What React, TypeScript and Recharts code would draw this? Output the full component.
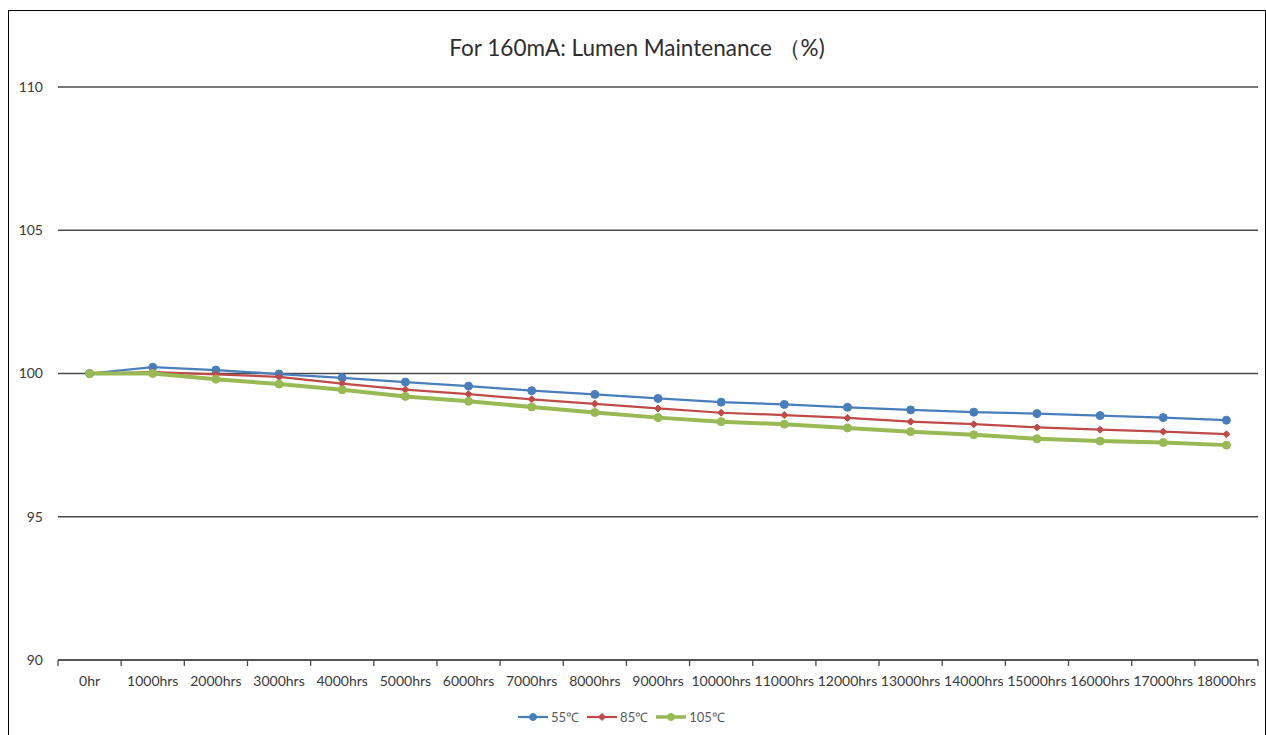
import React from "react";
import {
  LineChart,
  Line,
  XAxis,
  YAxis,
  CartesianGrid,
} from "recharts";

const categories = [
  "0hr", "1000hrs", "2000hrs", "3000hrs", "4000hrs", "5000hrs", "6000hrs",
  "7000hrs", "8000hrs", "9000hrs", "10000hrs", "11000hrs", "12000hrs",
  "13000hrs", "14000hrs", "15000hrs", "16000hrs", "17000hrs", "18000hrs",
];

const temp55 = [
  100, 100.22, 100.12, 99.98, 99.85, 99.7, 99.56, 99.4, 99.27, 99.13, 99.0,
  98.92, 98.82, 98.73, 98.65, 98.6, 98.53, 98.46, 98.37,
];
const temp85 = [
  100, 100.05, 99.97, 99.88, 99.65, 99.44, 99.28, 99.1, 98.94, 98.78, 98.63,
  98.55, 98.45, 98.32, 98.23, 98.12, 98.04, 97.97, 97.88,
];
const temp105 = [
  100, 100.0, 99.8, 99.63, 99.43, 99.2, 99.03, 98.83, 98.64, 98.46, 98.32,
  98.23, 98.1, 97.97, 97.86, 97.72, 97.64, 97.59, 97.5,
];

const yTicks = [90, 95, 100, 105, 110];

const SERIES = [
  { key: "t55", name: "55℃", color: "#4A7EBB", width: 2.25, marker: "circle" },
  { key: "t85", name: "85℃", color: "#BE4B48", width: 2.25, marker: "diamond" },
  { key: "t105", name: "105℃", color: "#98B954", width: 4, marker: "circle" },
];

const FONT = "Lato, 'Liberation Sans', sans-serif";
const TEXT = "#3a3a3a";

const chartData = categories.map((label, i) => ({
  x: i,
  label,
  t55: temp55[i],
  t85: temp85[i],
  t105: temp105[i],
}));

const labelTicks = categories.map((_, i) => i);
const boundaryTicks = [...categories.map((_, i) => i - 0.5), categories.length - 0.5];

function Marker({ cx, cy, color, shape, size }: any) {
  if (cx == null || cy == null) return null;
  if (shape === "diamond") {
    const s = size;
    return (
      <polygon
        points={`${cx},${cy - s} ${cx + s},${cy} ${cx},${cy + s} ${cx - s},${cy}`}
        fill={color}
        stroke={color}
        strokeWidth={1}
      />
    );
  }
  return <circle cx={cx} cy={cy} r={size} fill={color} stroke={color} strokeWidth={1} />;
}

function LegendIcon({ color, width, marker }: any) {
  return (
    <svg width={30} height={12} style={{ display: "block" }}>
      <line x1={0} y1={6} x2={30} y2={6} stroke={color} strokeWidth={width} />
      <Marker cx={15} cy={6} color={color} shape={marker} size={3.5} />
    </svg>
  );
}

export default function App() {
  return (
    <div>
      <style>{"html,body{overflow:hidden}"}</style>
      <div
        style={{
          position: "absolute",
          left: 8,
          top: 10,
          width: 1258,
          height: 760,
          border: "1px solid #000",
          boxSizing: "border-box",
          background: "#fff",
          fontFamily: FONT,
        }}
      >
        <div
          style={{
            position: "absolute",
            left: 0,
            top: 24,
            width: "100%",
            textAlign: "center",
            fontSize: 22.5,
            lineHeight: "26px",
            color: "#2e2e2e",
          }}
        >
          For 160mA: Lumen Maintenance （%)
        </div>

        <div style={{ position: "absolute", left: 0, top: 0 }}>
          <LineChart
            width={1256}
            height={700}
            data={chartData}
            margin={{ top: 76, right: 7, bottom: 49, left: 0 }}
          >
            <CartesianGrid
              vertical={false}
              stroke="#4a4a4a"
              strokeWidth={1.3}
              yAxisId="y"
              xAxisId="lab"
            />
            <XAxis
              xAxisId="bnd"
              type="number"
              dataKey="x"
              domain={[-0.5, categories.length - 0.5]}
              ticks={boundaryTicks}
              interval={0}
              height={1}
              tickFormatter={() => ""}
              tickSize={6}
              axisLine={{ stroke: "#4a4a4a", strokeWidth: 1.3 }}
              tickLine={{ stroke: "#4a4a4a", strokeWidth: 1.3 }}
            />
            <XAxis
              xAxisId="lab"
              type="number"
              dataKey="x"
              domain={[-0.5, categories.length - 0.5]}
              ticks={labelTicks}
              interval={0}
              height={1}
              axisLine={false}
              tickLine={false}
              tickMargin={9}
              tickFormatter={(v: number) => categories[v] ?? ""}
              tick={{ fontSize: 14, fill: TEXT, fontFamily: FONT }}
            />
            <YAxis
              yAxisId="y"
              type="number"
              domain={[90, 110]}
              ticks={yTicks}
              interval={0}
              width={49}
              axisLine={false}
              tickLine={false}
              tickMargin={9}
              tick={{ fontSize: 14, fill: TEXT, fontFamily: FONT }}
            />
            {SERIES.map((s) => (
              <Line
                key={s.key}
                xAxisId="lab"
                yAxisId="y"
                type="linear"
                dataKey={s.key}
                name={s.name}
                stroke={s.color}
                strokeWidth={s.width}
                dot={(p: any) => (
                  <Marker
                    key={`${s.key}-${p.index}`}
                    cx={p.cx}
                    cy={p.cy}
                    color={s.color}
                    shape={s.marker}
                    size={s.marker === "diamond" ? 3.5 : 4}
                  />
                )}
                activeDot={false}
                isAnimationActive={false}
              />
            ))}
          </LineChart>
        </div>

        <div
          style={{
            position: "absolute",
            left: 509,
            top: 698,
            display: "flex",
            alignItems: "center",
            gap: 8,
            fontSize: 13,
            color: "#595959",
            lineHeight: "16px",
          }}
        >
          {SERIES.map((s) => (
            <div key={s.key} style={{ display: "flex", alignItems: "center", gap: 3 }}>
              <LegendIcon color={s.color} width={s.width === 4 ? 3.5 : 2.25} marker={s.marker} />
              <span>{s.name}</span>
            </div>
          ))}
        </div>
      </div>
    </div>
  );
}
